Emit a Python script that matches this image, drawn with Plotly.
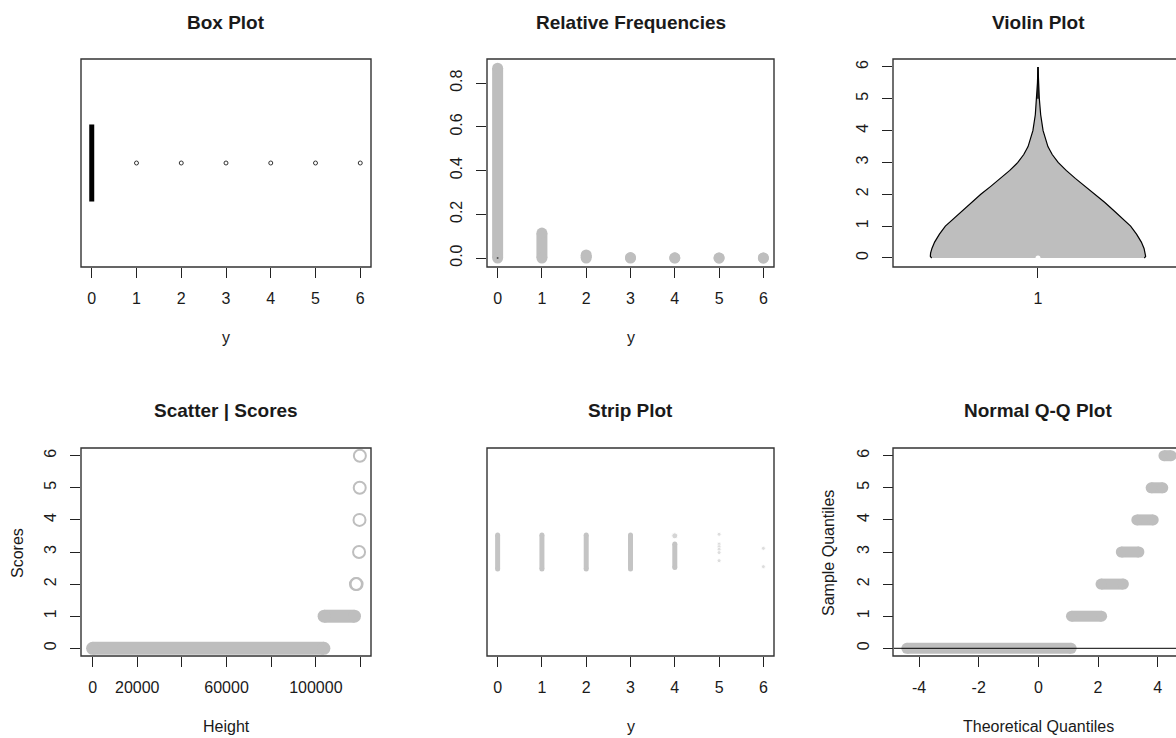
import plotly.graph_objects as go

W, H = 1176, 738

# ---------------- data ----------------
levels = [0, 1, 2, 3, 4, 5, 6]

# Box plot (horizontal): all quartiles at 0, outliers at 1..6
box_median = 0
box_outliers = [1, 2, 3, 4, 5, 6]

# Relative frequencies of y
rel_freq = [0.868, 0.114, 0.014, 0.002, 0.001, 0.0007, 0.0004]

# Violin outline (half-width by y value)
violin_y = [0, 0.05, 0.15, 0.3, 0.5, 0.75, 1.0, 1.25, 1.5, 1.75, 2.0, 2.25, 2.5,
            2.75, 3.0, 3.25, 3.5, 4.0, 4.5, 5.0, 5.5, 6.0]
violin_hw = [0.396, 0.401, 0.400, 0.395, 0.385, 0.367, 0.345, 0.313, 0.281, 0.248,
             0.213, 0.176, 0.139, 0.105, 0.075, 0.053, 0.037, 0.019, 0.010,
             0.005, 0.002, 0.0]
violin_median = 0

# Scatter | Scores : Height (rank) vs score
scatter_run_score = [0, 1]
scatter_run_start = [1, 103700]
scatter_run_end = [103600, 117300]
scatter_pt_height = [117950, 118250, 119350, 119550, 119650, 119720]
scatter_pt_score = [2, 2, 3, 4, 5, 6]

# Strip plot (jittered around 1)
strip_run_level = [0, 1, 2, 3, 4]
strip_run_low = [0.912, 0.912, 0.912, 0.912, 0.920]
strip_run_high = [1.088, 1.088, 1.088, 1.088, 1.042]
strip_pt_level = [4, 5, 5, 5, 5, 5, 5, 6, 6]
strip_pt_jit = [1.084, 1.092, 1.041, 1.027, 1.014, 0.997, 0.955, 1.019, 0.924]

# Normal Q-Q: theoretical-quantile span for each sample value
qq_score = [0, 1, 2, 3, 4, 5, 6]
qq_start = [-4.41, 1.11, 2.10, 2.78, 3.30, 3.78, 4.21]
qq_end = [1.10, 2.12, 2.85, 3.37, 3.85, 4.17, 4.45]
qq_ticks = [-4, -2, 0, 2, 4]

# ---------------- style ----------------
GRAY = "#BEBEBE"
FONT = "Liberation Sans, Arial, sans-serif"
TXT = "#1a1a1a"


def px(v):
    return v / W


def py(v):
    return 1 - v / H


cols = {1: (81, 371), 2: (487, 774), 3: (893, 1183)}
rows = {1: (59, 267), 2: (448, 656)}

fig = go.Figure()


def seg_trace(xs, ys, width, color, axis, mode="lines+markers"):
    return go.Scatter(x=xs, y=ys, mode=mode, xaxis="x" + axis, yaxis="y" + axis,
                      line=dict(color=color, width=width),
                      marker=dict(color=color, size=width, line=dict(width=0)),
                      hoverinfo="skip", showlegend=False)


# Panel 1: Box plot
fig.add_trace(go.Scatter(x=[box_median, box_median], y=[0.8, 1.2], mode="lines",
                         line=dict(color="black", width=5), xaxis="x", yaxis="y",
                         showlegend=False))
fig.add_trace(go.Scatter(x=box_outliers, y=[1] * len(box_outliers), mode="markers",
                         marker=dict(symbol="circle-open", size=4, color="#333",
                                     line=dict(width=1, color="#333")),
                         xaxis="x", yaxis="y", showlegend=False))

# Panel 2: relative frequencies
xs, ys = [], []
for lv, f in zip(levels, rel_freq):
    xs += [lv, lv, None]
    ys += [0, f, None]
fig.add_trace(seg_trace(xs, ys, 11, GRAY, "2"))
fig.add_trace(go.Scatter(x=[0], y=[0], mode="markers", xaxis="x2", yaxis="y2",
                         marker=dict(color="#555", size=2), showlegend=False))

# Panel 3: violin
vx = [1 - h for h in violin_hw] + [1 + h for h in reversed(violin_hw)]
vy = list(violin_y) + list(reversed(violin_y))
fig.add_trace(go.Scatter(x=vx, y=vy, mode="lines", fill="toself", fillcolor=GRAY,
                         line=dict(color="black", width=1.2), xaxis="x3", yaxis="y3",
                         showlegend=False))
fig.add_trace(go.Scatter(x=[1, 1], y=[5.0, 6.0], mode="lines", xaxis="x3", yaxis="y3",
                         line=dict(color="black", width=1.5), showlegend=False))
fig.add_trace(go.Scatter(x=[1], y=[violin_median], mode="markers", xaxis="x3", yaxis="y3",
                         marker=dict(color="white", size=5), showlegend=False))

# Panel 4: scatter
xs, ys = [], []
for s, a, b in zip(scatter_run_score, scatter_run_start, scatter_run_end):
    xs += [a, b, None]
    ys += [s, s, None]
fig.add_trace(seg_trace(xs, ys, 13, GRAY, "4"))
fig.add_trace(go.Scatter(x=scatter_pt_height, y=scatter_pt_score, mode="markers",
                         xaxis="x4", yaxis="y4",
                         marker=dict(symbol="circle-open", size=12, color=GRAY,
                                     line=dict(width=2, color=GRAY)),
                         showlegend=False))

# Panel 5: strip plot
xs, ys = [], []
for lv, lo, hi in zip(strip_run_level, strip_run_low, strip_run_high):
    xs += [lv, lv, None]
    ys += [lo, hi, None]
fig.add_trace(seg_trace(xs, ys, 5, "#C4C4C4", "5"))
fig.add_trace(go.Scatter(x=strip_pt_level, y=strip_pt_jit, mode="markers",
                         xaxis="x5", yaxis="y5",
                         marker=dict(size=[6, 4, 4, 4, 4, 4, 4, 4, 4],
                                     color=["#C4C4C4"] + ["#D0D0D0"] * 8),
                         showlegend=False))

# Panel 6: Normal Q-Q
xs, ys = [], []
for s, a, b in zip(qq_score, qq_start, qq_end):
    xs += [a, b, None]
    ys += [s, s, None]
fig.add_trace(seg_trace(xs, ys, 11, GRAY, "6"))
fig.add_trace(go.Scatter(x=[-6, 6], y=[0, 0], mode="lines", xaxis="x6", yaxis="y6",
                         line=dict(color="black", width=1), showlegend=False))

# ---------------- axes ----------------
tickfont = dict(family=FONT, size=16, color=TXT)


def dom_x(c):
    a, b = cols[c]
    return [px(a), min(px(b), 1.0)]


def dom_y(r):
    a, b = rows[r]
    return [py(b), py(a)]


base = dict(showgrid=False, zeroline=False, showline=False, ticks="outside",
            ticklen=10, tickwidth=1, tickcolor="#222", tickfont=tickfont,
            fixedrange=True)

lay = {}
# x axes
lay["xaxis"] = dict(base, domain=dom_x(1), range=[-0.24, 6.24], tickvals=levels,
                    anchor="y", ticklabelstandoff=7)
lay["xaxis2"] = dict(base, domain=dom_x(2), range=[-0.24, 6.24], tickvals=levels,
                     anchor="y2", ticklabelstandoff=7)
lay["xaxis3"] = dict(base, domain=[px(893), 1.0], range=[0.46, 0.46 + 283 / 268.5],
                     tickvals=[1], ticktext=["1"], anchor="y3", ticklabelstandoff=7)
lay["xaxis4"] = dict(base, domain=dom_x(1), range=[-5200, 124700],
                     tickvals=[0, 20000, 40000, 60000, 80000, 100000, 120000],
                     ticktext=["0", "20000", "", "60000", "", "100000", ""],
                     anchor="y4", ticklabelstandoff=7)
lay["xaxis5"] = dict(base, domain=dom_x(2), range=[-0.24, 6.24], tickvals=levels,
                     anchor="y5", ticklabelstandoff=7)
lay["xaxis6"] = dict(base, domain=[px(894), 1.0], range=[-4.84, -4.84 + 282 / 29.83],
                     tickvals=qq_ticks, ticktext=[str(t) for t in qq_ticks],
                     anchor="y6", ticklabelstandoff=7)
# y axes
lay["yaxis"] = dict(base, domain=dom_y(1), range=[0.46, 1.54], visible=False, anchor="x")
lay["yaxis2"] = dict(base, domain=dom_y(1), range=[-0.041, 0.910],
                     tickvals=[0, 0.2, 0.4, 0.6, 0.8],
                     ticktext=["0.0", "0.2", "0.4", "0.6", "0.8"],
                     tickangle=-90, anchor="x2", ticklabelstandoff=8)
lay["yaxis3"] = dict(base, domain=dom_y(1), range=[-0.283, 6.25], tickvals=levels,
                     tickangle=-90, anchor="x3", ticklabelstandoff=8)
lay["yaxis4"] = dict(base, domain=dom_y(2), range=[-0.24, 6.24], tickvals=levels,
                     tickangle=-90, anchor="x4", ticklabelstandoff=8)
lay["yaxis5"] = dict(base, domain=dom_y(2), range=[0.46, 1.54], visible=False, anchor="x5")
lay["yaxis6"] = dict(base, domain=dom_y(2), range=[-0.24, 6.24], tickvals=levels,
                     tickangle=-90, anchor="x6", ticklabelstandoff=8)

# ---------------- boxes ----------------
shapes = []
for r in (1, 2):
    for c in (1, 2, 3):
        x0, x1 = cols[c]
        y0, y1 = rows[r]
        shapes.append(dict(type="rect", xref="paper", yref="paper",
                           x0=px(x0), x1=px(x1), y0=py(y1), y1=py(y0),
                           line=dict(color="#333", width=1.4), layer="above"))

# ---------------- text ----------------
ann = []


def text(s, x, y, size=16, bold=False, angle=0):
    ann.append(dict(text=("<b>%s</b>" % s) if bold else s, xref="paper", yref="paper",
                    x=px(x), y=py(y), xanchor="center", yanchor="middle",
                    showarrow=False, textangle=angle,
                    font=dict(family=FONT, size=size, color=TXT)))


titles = [("Box Plot", 1, 1), ("Relative Frequencies", 2, 1), ("Violin Plot", 3, 1),
          ("Scatter | Scores", 1, 2), ("Strip Plot", 2, 2), ("Normal Q-Q Plot", 3, 2)]
title_y = {1: 22, 2: 410}
for t, c, r in titles:
    x0, x1 = cols[c]
    text(t, (x0 + x1) / 2, title_y[r], size=19, bold=True)

text("y", (cols[1][0] + cols[1][1]) / 2, 338)
text("y", (cols[2][0] + cols[2][1]) / 2, 338)
text("Height", (cols[1][0] + cols[1][1]) / 2, 726)
text("y", (cols[2][0] + cols[2][1]) / 2, 726)
text("Theoretical Quantiles", (cols[3][0] + cols[3][1]) / 2, 726)
text("Scores", 17, 553, angle=-90)
text("Sample Quantiles", 828, 553, angle=-90)

fig.update_layout(width=W, height=H, margin=dict(l=0, r=0, t=0, b=0),
                  paper_bgcolor="white", plot_bgcolor="white", showlegend=False,
                  shapes=shapes, annotations=ann, **lay)

fig.write_html("out.html")
